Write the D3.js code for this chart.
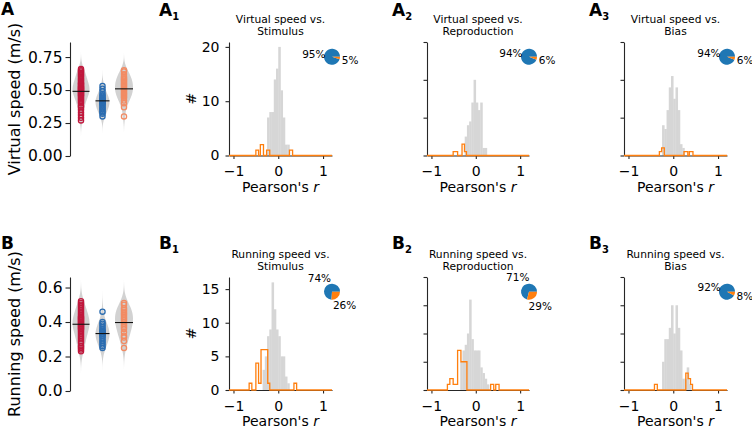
<!DOCTYPE html>
<html><head><meta charset="utf-8">
<script src="https://cdn.jsdelivr.net/npm/d3@7"></script>
<style>
body{margin:0;background:#fff}
svg{display:block}
text{font-family:"DejaVu Sans",sans-serif;fill:#000}
</style>
</head><body>
<svg id="c" width="752" height="430"></svg>
<script>
// ---------------- DATA ----------------
// Violin panels: per-neuron speeds (m/s) for three groups
const groupColors = ["#c0173c", "#2b6cb0", "#f28b63"];
const virtRed    = [0.27,0.29,0.31,0.33,0.35,0.37,0.38,0.40,0.41,0.42,0.43,0.44,0.45,0.46,0.46,0.47,0.48,0.48,0.49,0.49,0.50,0.50,0.51,0.51,0.52,0.52,0.53,0.53,0.54,0.55,0.55,0.56,0.57,0.58,0.59,0.60,0.61,0.62,0.63,0.64,0.65,0.66];
const virtBlue   = [0.30,0.32,0.33,0.34,0.35,0.36,0.37,0.38,0.39,0.40,0.40,0.41,0.41,0.42,0.42,0.43,0.43,0.44,0.45,0.46,0.47,0.49,0.51,0.53];
const virtOrange = [0.30,0.37,0.40,0.42,0.44,0.45,0.46,0.47,0.48,0.49,0.50,0.51,0.52,0.53,0.54,0.55,0.56,0.57,0.58,0.59,0.60,0.62,0.64,0.65];
const virtMeans  = [0.49, 0.418, 0.509];
const runRed     = [0.23,0.24,0.25,0.26,0.28,0.29,0.30,0.31,0.32,0.33,0.34,0.35,0.36,0.36,0.37,0.37,0.38,0.38,0.39,0.39,0.40,0.40,0.41,0.41,0.42,0.42,0.43,0.43,0.44,0.45,0.46,0.47,0.48,0.49,0.50,0.51,0.52];
const runBlue    = [0.25,0.26,0.27,0.28,0.29,0.30,0.31,0.32,0.32,0.33,0.33,0.34,0.34,0.35,0.35,0.36,0.37,0.38,0.39,0.40,0.46];
const runOrange  = [0.25,0.29,0.31,0.32,0.34,0.36,0.37,0.38,0.39,0.40,0.41,0.42,0.43,0.44,0.45,0.46,0.47,0.48,0.50,0.51];
const runMeans   = [0.387, 0.333, 0.397];
const virtTicks  = [0, 0.25, 0.5, 0.75];
const runTicks   = [0, 0.2, 0.4, 0.6];

// Histograms of Pearson's r (gray = n.s., bins of 0.05; orange = significant, step outline)
const binWidth = 0.05;
const rTicks = [-1, 0, 1];

const a1Title = ["Virtual speed vs.", "Stimulus"];
const a1GrayStart = -0.25;
const a1GrayCounts = [7, 8, 8, 14, 16, 20, 12, 7, 2, 2];
const a1OrangeEdges = [-0.5, -0.44, -0.4, -0.33, -0.26, -0.19, 0.25, 0.32];
const a1OrangeCounts = [1, 0, 2, 0, 1, 0, 1];
const a1Pie = [95, 5];
const a1YTicks = [0, 10, 20];

const a2Title = ["Virtual speed vs.", "Reproduction"];
const a2GrayStart = -0.25;
const a2GrayCounts = [5, 8, 9, 14, 20, 14, 12, 14, 2, 2];
const a2OrangeEdges = [-0.51, -0.46, -0.41, -0.31, -0.255, -0.21];
const a2OrangeCounts = [1, 1, 0, 3, 1];
const a2Pie = [94, 6];
const a2YTicks = [0, 10, 20, 30];

const a3Title = ["Virtual speed vs.", "Bias"];
const a3GrayStart = -0.25;
const a3GrayCounts = [8, 7, 12, 18, 21, 15, 18, 12, 3, 2];
const a3OrangeEdges = [-0.31, -0.26, -0.2, 0.24, 0.325, 0.36, 0.44];
const a3OrangeCounts = [1, 2, 0, 1, 0, 1];
const a3Pie = [94, 6];
const a3YTicks = [0, 10, 20, 30];

const b1Title = ["Running speed vs.", "Stimulus"];
const b1GrayStart = -0.35;
const b1GrayCounts = [3, 5, 8, 9, 16, 12, 9, 8, 5, 5, 2, 1];
const b1OrangeEdges = [-0.65, -0.59, -0.5, -0.44, -0.385, -0.235, -0.19, 0.35, 0.41];
const b1OrangeCounts = [1, 0, 4, 1, 6, 1, 0, 1];
const b1Pie = [74, 26];
const b1YTicks = [0, 5, 10, 15];

const b2Title = ["Running speed vs.", "Reproduction"];
const b2GrayStart = -0.35;
const b2GrayCounts = [5, 7, 8, 10, 16, 9, 7, 7, 7, 4, 3, 2, 1];
const b2OrangeEdges = [-0.64, -0.585, -0.51, -0.41, -0.335, -0.2, 0.335, 0.405, 0.45, 0.525];
const b2OrangeCounts = [1, 2, 1, 7, 5, 0, 1, 0, 1];
const b2Pie = [71, 29];
const b2YTicks = [0, 5, 10, 15, 20];

const b3Title = ["Running speed vs.", "Bias"];
const b3GrayStart = -0.25;
const b3GrayCounts = [5, 9, 9, 11, 15, 10, 15, 11, 7, 2, 2, 4, 1];
const b3OrangeEdges = [-0.42, -0.356, 0.28, 0.333, 0.385, 0.43];
const b3OrangeCounts = [1, 0, 3, 2, 1];
const b3Pie = [92, 8];
const b3YTicks = [0, 5, 10, 15, 20];

const pieColors = ["#1f77b4", "#ff7f0e"];

// ---------------- DRAWING ----------------
const svg = d3.select("#c");
const SPINE = "#262626";

function styleAxis(g, fs) {
  g.select(".domain").attr("stroke", SPINE).attr("stroke-width", 1.1);
  g.selectAll(".tick line").attr("stroke", SPINE).attr("stroke-width", 1.1);
  g.selectAll(".tick text").attr("fill", "#000").style("font-size", fs + "px")
    .style("font-family", '"DejaVu Sans",sans-serif');
}

function letter(x, y, main, sub) {
  const t = svg.append("text").attr("x", x).attr("y", y)
    .style("font-size", "17px").style("font-weight", "bold").text(main);
  if (sub) t.append("tspan").attr("dy", 3.5).style("font-size", "10px").text(sub);
}

function kde(values, bw, n) {
  const lo = d3.min(values) - 3.5 * bw, hi = d3.max(values) + 3.5 * bw;
  return d3.range(n + 1).map(i => {
    const p = lo + (hi - lo) * i / n;
    return [p, d3.mean(values, v => Math.exp(-0.5 * ((p - v) / bw) ** 2))];
  });
}

function violinPanel(c) {
  const y = d3.scaleLinear().domain([0, c.yMax]).range([c.bottom, c.top]);
  const x = d3.scalePoint().domain([0, 1, 2]).range([81, 124]);
  const g = svg.append("g");
  const halfW = [8.5, 7, 9];
  c.series.forEach((vals, i) => {
    const dens = kde(vals, 0.045, 80);
    const m = d3.max(dens, d => d[1]);
    const w = d3.scaleLinear().domain([0, m]).range([0, halfW[i]]);
    g.append("path").datum(dens)
      .attr("d", d3.area().curve(d3.curveBasis)
        .y(d => y(d[0])).x0(d => x(i) - w(d[1])).x1(d => x(i) + w(d[1])))
      .attr("fill", "#cdcdcd").attr("fill-opacity", 0.9);
  });
  c.series.forEach((vals, i) => {
    g.selectAll(null).data(vals).enter().append("circle")
      .attr("cx", x(i)).attr("cy", d => y(d)).attr("r", 2.6)
      .attr("fill", "none").attr("stroke", groupColors[i]).attr("stroke-width", 1.3);
  });
  c.means.forEach((mv, i) => {
    g.append("line").attr("x1", x(i) - halfW[i]).attr("x2", x(i) + halfW[i])
      .attr("y1", y(mv)).attr("y2", y(mv)).attr("stroke", "#111").attr("stroke-width", 1.1);
  });
  const ax = g.append("g").attr("transform", "translate(70,0)")
    .call(d3.axisLeft(y).tickValues(c.ticks).tickFormat(d3.format(c.fmt))
      .tickSize(4.5).tickSizeOuter(0).tickPadding(3));
  styleAxis(ax, 15.5);
  g.append("text").attr("transform", `translate(14,${(c.top + c.bottom) / 2}) rotate(-90)`)
    .attr("text-anchor", "middle").attr("dominant-baseline", "central")
    .style("font-size", "16px").text(c.label);
}

function histPanel(c) {
  const x = d3.scaleLinear().domain([-1.1, 1.2]).range([c.x0, c.x1]);
  const y = d3.scaleLinear().domain([0, c.yMax]).range([c.bottom, c.top]);
  const g = svg.append("g");
  // gray bars
  g.selectAll(null).data(c.grayCounts).enter().append("rect")
    .attr("x", (d, i) => x(c.grayStart + i * binWidth))
    .attr("width", (d, i) => x(c.grayStart + (i + 1) * binWidth) - x(c.grayStart + i * binWidth) + 0.3)
    .attr("y", d => y(d)).attr("height", d => y(0) - y(d))
    .attr("fill", "#d6d6d6");
  // axes
  const ay = g.append("g").attr("transform", `translate(${c.x0},0)`)
    .call(d3.axisLeft(y).tickValues(c.yTicks).tickFormat(c.yLabels ? d3.format("d") : () => "")
      .tickSize(3.5).tickSizeOuter(0).tickPadding(6));
  styleAxis(ay, 14);
  const axb = g.append("g").attr("transform", `translate(0,${c.bottom})`)
    .call(d3.axisBottom(x).tickValues(rTicks).tickFormat(d => d < 0 ? "\u2212" + Math.abs(d) : String(d))
      .tickSize(3.5).tickSizeOuter(0).tickPadding(7.5));
  styleAxis(axb, 14);
  // orange step outline
  const e = c.orangeEdges, cnt = c.orangeCounts;
  const pts = [[-1.1, 0], [e[0], 0]];
  cnt.forEach((v, i) => { pts.push([e[i], v]); pts.push([e[i + 1], v]); });
  pts.push([e[e.length - 1], 0]); pts.push([1.2, 0]);
  g.append("path").datum(pts)
    .attr("d", d3.line().x(d => x(d[0])).y(d => y(d[1])))
    .attr("fill", "none").attr("stroke", "#ff7f0e").attr("stroke-width", 1.3);
  // title
  const cx = (c.x0 + c.x1) / 2;
  c.title.forEach((t, i) => {
    g.append("text").attr("x", cx).attr("y", c.top - 19.5 + 12.5 * i)
      .attr("text-anchor", "middle").style("font-size", "10.7px").text(t);
  });
  // labels
  g.append("text").attr("x", cx).attr("y", c.bottom + 36).attr("text-anchor", "middle")
    .style("font-size", "14px")
    .html("Pearson's <tspan font-style='italic'>r</tspan>");
  if (c.yLabels) {
    g.append("text").attr("transform", `translate(191,${(c.top + c.bottom) / 2}) rotate(-90)`)
      .attr("text-anchor", "middle").attr("dominant-baseline", "central")
      .style("font-size", "14px").text("#");
  }
  // pie
  const pcx = c.x1, pcy = c.top + 0.13 * (c.bottom - c.top), r = 8;
  const tot = d3.sum(c.pie);
  let t0 = 0;
  c.pie.forEach((v, i) => {
    const t1 = t0 + v / tot * 2 * Math.PI;
    const arc = d3.arc().innerRadius(0).outerRadius(r)
      .startAngle(Math.PI / 2 - t1).endAngle(Math.PI / 2 - t0);
    g.append("path").attr("transform", `translate(${pcx},${pcy})`)
      .attr("d", arc()).attr("fill", pieColors[i]);
    const mid = (t0 + t1) / 2;
    g.append("text").attr("x", pcx + 2.3 * r * Math.cos(mid)).attr("y", pcy - 2.3 * r * Math.sin(mid))
      .attr("text-anchor", "middle").attr("dominant-baseline", "central")
      .style("font-size", "10.5px").text(v + "%");
    t0 = t1;
  });
}

// Violin panels
violinPanel({top: 42, bottom: 156, yMax: 0.864, ticks: virtTicks, fmt: ".2f",
  series: [virtRed, virtBlue, virtOrange], means: virtMeans, label: "Virtual speed (m/s)"});
violinPanel({top: 277, bottom: 391, yMax: 0.661, ticks: runTicks, fmt: ".1f",
  series: [runRed, runBlue, runOrange], means: runMeans, label: "Running speed (m/s)"});

// Histogram panels
const rowA = {top: 42, bottom: 155.5};
const rowB = {top: 277, bottom: 390};
const cols = [{x0: 229, x1: 332}, {x0: 427, x1: 529}, {x0: 624, x1: 727}];

histPanel({...rowA, ...cols[0], yMax: 20.9, yTicks: a1YTicks, yLabels: true, title: a1Title,
  grayStart: a1GrayStart, grayCounts: a1GrayCounts, orangeEdges: a1OrangeEdges, orangeCounts: a1OrangeCounts, pie: a1Pie});
histPanel({...rowA, ...cols[1], yMax: 30, yTicks: a2YTicks, yLabels: false, title: a2Title,
  grayStart: a2GrayStart, grayCounts: a2GrayCounts, orangeEdges: a2OrangeEdges, orangeCounts: a2OrangeCounts, pie: a2Pie});
histPanel({...rowA, ...cols[2], yMax: 30, yTicks: a3YTicks, yLabels: false, title: a3Title,
  grayStart: a3GrayStart, grayCounts: a3GrayCounts, orangeEdges: a3OrangeEdges, orangeCounts: a3OrangeCounts, pie: a3Pie});
histPanel({...rowB, ...cols[0], yMax: 16.8, yTicks: b1YTicks, yLabels: true, title: b1Title,
  grayStart: b1GrayStart, grayCounts: b1GrayCounts, orangeEdges: b1OrangeEdges, orangeCounts: b1OrangeCounts, pie: b1Pie});
histPanel({...rowB, ...cols[1], yMax: 20, yTicks: b2YTicks, yLabels: false, title: b2Title,
  grayStart: b2GrayStart, grayCounts: b2GrayCounts, orangeEdges: b2OrangeEdges, orangeCounts: b2OrangeCounts, pie: b2Pie});
histPanel({...rowB, ...cols[2], yMax: 20, yTicks: b3YTicks, yLabels: false, title: b3Title,
  grayStart: b3GrayStart, grayCounts: b3GrayCounts, orangeEdges: b3OrangeEdges, orangeCounts: b3OrangeCounts, pie: b3Pie});

// Panel letters
letter(1, 15, "A");
letter(1, 249, "B");
letter(159, 16, "A", "1");
letter(392, 16, "A", "2");
letter(589, 16, "A", "3");
letter(159, 249, "B", "1");
letter(392, 249, "B", "2");
letter(589, 249, "B", "3");
</script>
</body></html>
